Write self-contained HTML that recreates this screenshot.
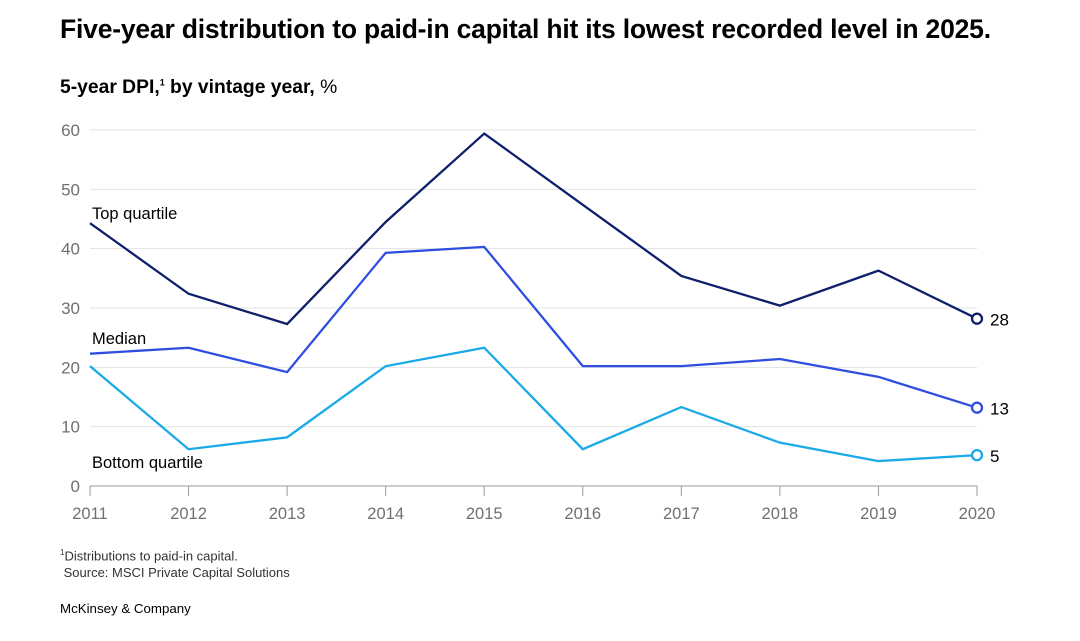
<!DOCTYPE html>
<html><head><meta charset="utf-8"><style>
body{margin:0;background:#fff;width:1080px;height:641px;overflow:hidden;font-family:"Liberation Sans",sans-serif;}
.t{position:absolute;left:60px;top:14px;font-size:26.5px;font-weight:bold;color:#000;letter-spacing:-0.2px;white-space:nowrap}
.s{position:absolute;left:60px;top:77px;font-size:19.3px;font-weight:bold;color:#000}
.s span{font-weight:normal}
.fn{position:absolute;left:60px;top:544px;font-size:13px;color:#333;line-height:17px}
.mk{position:absolute;left:60px;top:601px;font-size:13.3px;color:#000}
</style></head><body>
<div class="t">Five-year distribution to paid-in capital hit its lowest recorded level in 2025.</div>
<div class="s">5-year DPI,<sup style="font-size:9px">1</sup> by vintage year, <span>%</span></div>
<svg id="c" width="1080" height="641" style="position:absolute;left:0;top:0"></svg>
<div class="fn"><sup style="font-size:8px">1</sup>Distributions to paid-in capital.<br>&nbsp;Source: MSCI Private Capital Solutions</div>
<div class="mk">McKinsey &amp; Company</div>
<script>
const years=[2011,2012,2013,2014,2015,2016,2017,2018,2019,2020];
const topQ=[44.3,32.4,27.3,44.5,59.4,47.4,35.4,30.4,36.3,28.2];
const median=[22.3,23.3,19.2,39.3,40.3,20.2,20.2,21.4,18.4,13.2];
const bottomQ=[20.2,6.2,8.2,20.2,23.3,6.2,13.3,7.3,4.2,5.2];
const yTicks=[0,10,20,30,40,50,60];
const endLabels=["28","13","5"];
const NS="http://www.w3.org/2000/svg",svg=document.getElementById('c');
const x=i=>90+i*(977-90)/(years.length-1);
const y=v=>486-v*(486-130)/60;
function el(t,a,p){const e=document.createElementNS(NS,t);for(const k in a)e.setAttribute(k,a[k]);(p||svg).appendChild(e);return e;}
yTicks.forEach(v=>{
 if(v>0){const g=el('line',{x1:90,x2:977,y1:y(v),y2:y(v),stroke:'#e3e3e3','stroke-width':1});
 
 }
 const t=el('text',{x:80,y:y(v)+6,'text-anchor':'end','font-size':17,fill:'#707070'});t.textContent=v;
 
 
});
const ax=el('line',{x1:90,x2:977,y1:486,y2:486,stroke:'#9a9a9a','stroke-width':1});


years.forEach((yr,i)=>{
 el('line',{x1:x(i),x2:x(i),y1:486,y2:496,stroke:'#9a9a9a','stroke-width':1});
 const t=el('text',{x:x(i),y:519,'text-anchor':'middle','font-size':16.5,fill:'#707070'});t.textContent=yr;
 
 
});
const series=[[topQ,'#0f1f6b','top-quartile'],[median,'#2f4ee0','median'],[bottomQ,'#1aaae6','bottom-quartile']];
series.forEach(([d,c,n],k)=>{
 const p=el('polyline',{points:d.map((v,i)=>x(i)+','+y(v)).join(' '),fill:'none',stroke:c,'stroke-width':2.3,'stroke-linejoin':'miter'});
 
 
 const last=d.length-1;
 const m=el('circle',{cx:x(last),cy:y(d[last]),r:5,fill:'#fff',stroke:c,'stroke-width':2.3});
 
 
 const t=el('text',{x:x(last)+13,y:y(d[last])+7,'font-size':17,fill:'#000'});t.textContent=endLabels[k];
 
 
});
[['Top quartile',219,'top-quartile-label'],['Median',344,'median-label'],['Bottom quartile',468,'bottom-quartile-label']].forEach(([s,yy,n])=>{
 const t=el('text',{x:92,y:yy,'font-size':16.5,fill:'#000'});t.textContent=s;
 
 
});
</script>
</body></html>
